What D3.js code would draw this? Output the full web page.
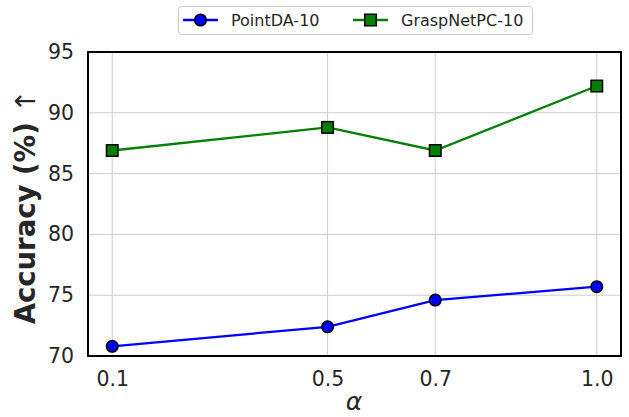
<!DOCTYPE html>
<html><head><meta charset="utf-8">
<script src="https://cdn.jsdelivr.net/npm/d3@7"></script>
<style>body{margin:0;background:#fff}svg{display:block}text{font-family:"DejaVu Sans",sans-serif}</style>
</head><body>
<script>
const alphas = [0.1, 0.5, 0.7, 1.0];
const xTickLabels = ["0.1", "0.5", "0.7", "1.0"];
const pointDA = [70.8, 72.4, 74.6, 75.7];
const graspNet = [86.9, 88.8, 86.9, 92.2];
const yTicks = [70, 75, 80, 85, 90, 95];
const seriesNames = ["PointDA-10", "GraspNetPC-10"];

const W = 629, H = 417;
const m = {left: 88, right: 8, top: 52, bottom: 61};
const svg = d3.select("body").append("svg").attr("width", W).attr("height", H);
const x = d3.scaleLinear().domain([0.055, 1.045]).range([m.left, W - m.right]);
const y = d3.scaleLinear().domain([70, 95]).range([H - m.bottom, m.top]);

// grid
svg.append("g").selectAll("line").data(yTicks).join("line")
  .attr("x1", m.left).attr("x2", W - m.right)
  .attr("y1", d => y(d)).attr("y2", d => y(d))
  .attr("stroke", "#cccccc").attr("stroke-width", 1);
svg.append("g").selectAll("line").data(alphas).join("line")
  .attr("y1", m.top).attr("y2", H - m.bottom)
  .attr("x1", d => x(d)).attr("x2", d => x(d))
  .attr("stroke", "#cccccc").attr("stroke-width", 1);

// axes
const xAxis = svg.append("g").attr("transform", `translate(0,${H - m.bottom})`)
  .call(d3.axisBottom(x).tickValues(alphas).tickFormat((d, i) => xTickLabels[i]).tickSize(0).tickPadding(15));
const yAxis = svg.append("g").attr("transform", `translate(${m.left},0)`)
  .call(d3.axisLeft(y).tickValues(yTicks).tickSize(0).tickPadding(14));
[xAxis, yAxis].forEach(a => {
  a.select(".domain").remove();
  a.selectAll("text").attr("font-size", 20.5).attr("fill", "#262626").attr("font-family", "DejaVu Sans");
});

// frame
svg.append("rect").attr("x", m.left).attr("y", m.top)
  .attr("width", W - m.left - m.right).attr("height", H - m.top - m.bottom)
  .attr("fill", "none").attr("stroke", "#000").attr("stroke-width", 2);

// lines
const line = d3.line().x((d, i) => x(alphas[i])).y(d => y(d));
svg.append("path").datum(pointDA).attr("d", line).attr("fill", "none").attr("stroke", "#0000ff").attr("stroke-width", 2.3);
svg.append("path").datum(graspNet).attr("d", line).attr("fill", "none").attr("stroke", "#008000").attr("stroke-width", 2.3);

svg.append("g").selectAll("circle").data(pointDA).join("circle")
  .attr("cx", (d, i) => x(alphas[i])).attr("cy", d => y(d)).attr("r", 5.8)
  .attr("fill", "#0000ff").attr("stroke", "#000").attr("stroke-width", 1.5);
const s = 11.5;
svg.append("g").selectAll("rect").data(graspNet).join("rect")
  .attr("x", (d, i) => x(alphas[i]) - s / 2).attr("y", d => y(d) - s / 2)
  .attr("width", s).attr("height", s)
  .attr("fill", "#008000").attr("stroke", "#000").attr("stroke-width", 1.5);

// axis labels
svg.append("text").attr("x", 354).attr("y", 410).attr("text-anchor", "middle")
  .attr("font-size", 25).attr("font-style", "italic").attr("fill", "#262626").text("α");
const yl = svg.append("text").attr("transform", `translate(35,${(m.top + H - m.bottom) / 2 + 3}) rotate(-90)`)
  .attr("text-anchor", "middle").attr("font-size", 27.5).attr("font-weight", "bold").attr("fill", "#262626");
yl.append("tspan").text("Accuracy (%) ");
yl.append("tspan").attr("font-weight", "normal").text("↑");

// legend
const lg = svg.append("g");
lg.append("rect").attr("x", 178.5).attr("y", 6.5).attr("width", 354).attr("height", 28).attr("rx", 3)
  .attr("fill", "#fff").attr("stroke", "#cccccc").attr("stroke-width", 1);
const ly = 20;
lg.append("line").attr("x1", 183).attr("x2", 218).attr("y1", ly).attr("y2", ly).attr("stroke", "#0000ff").attr("stroke-width", 2.3);
lg.append("circle").attr("cx", 200.5).attr("cy", ly).attr("r", 5.8).attr("fill", "#0000ff").attr("stroke", "#000").attr("stroke-width", 1.5);
lg.append("text").attr("x", 231).attr("y", ly + 6).attr("font-size", 16).attr("fill", "#262626").text(seriesNames[0]);
lg.append("line").attr("x1", 353).attr("x2", 388).attr("y1", ly).attr("y2", ly).attr("stroke", "#008000").attr("stroke-width", 2.3);
lg.append("rect").attr("x", 370.5 - s / 2).attr("y", ly - s / 2).attr("width", s).attr("height", s).attr("fill", "#008000").attr("stroke", "#000").attr("stroke-width", 1.5);
lg.append("text").attr("x", 401).attr("y", ly + 6).attr("font-size", 16).attr("fill", "#262626").text(seriesNames[1]);
</script>
</body></html>
